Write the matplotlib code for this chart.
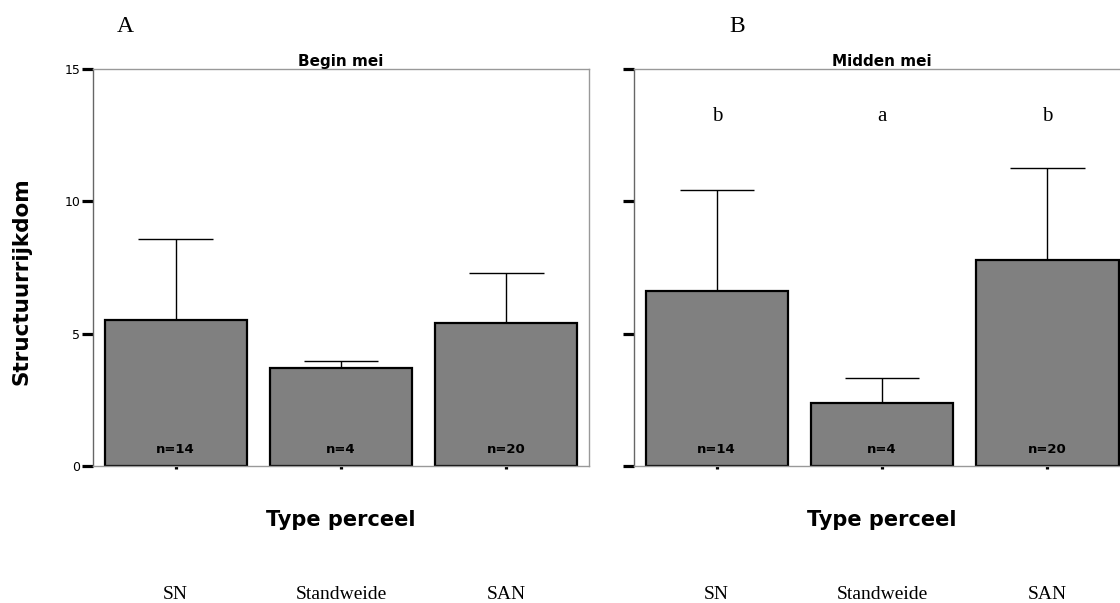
import matplotlib.pyplot as plt
import numpy as np

# categorieen en gemiddelden per periode
categories = ['SN', 'Standweide', 'SAN']
n_labels = ['n=14', 'n=4', 'n=20']
begin_mean = [5.52, 3.69, 5.39]
begin_upper = [8.59, 3.97, 7.29]
midden_mean = [6.61, 2.39, 7.77]
midden_upper = [10.43, 3.34, 11.25]
midden_letters = ['b', 'a', 'b']

serif = ['Liberation Serif', 'DejaVu Serif']
sans = ['DejaVu Sans']

fig = plt.figure(figsize=(11.2, 6.03), dpi=100)
ax_a = fig.add_axes([0.0830, 0.2272, 0.4429, 0.6584])
ax_b = fig.add_axes([0.5661, 0.2272, 0.4429, 0.6584])

x = np.arange(len(categories))

for ax, means, upper, title in [(ax_a, begin_mean, begin_upper, 'Begin mei'),
                                (ax_b, midden_mean, midden_upper, 'Midden mei')]:
    ax.bar(x, means, width=0.86, color='#808080', edgecolor='black', linewidth=1.6, zorder=2)
    # alleen bovenste foutbalk
    ax.vlines(x, means, upper, color='black', linewidth=1, zorder=1)
    ax.hlines(upper, x - 0.225, x + 0.225, color='black', linewidth=1, zorder=1)
    for xi, lab in zip(x, n_labels):
        ax.text(xi, 0.62, lab, ha='center', va='center', fontsize=9.5,
                fontweight='bold', family=sans, zorder=3)
    ax.set_xlim(-0.5, 2.5)
    ax.set_ylim(0, 15)
    ax.set_yticks([0, 5, 10, 15])
    ax.set_xticks(x)
    ax.set_xticklabels(categories, family=serif, fontsize=14)
    ax.tick_params(axis='y', length=8, width=2.3, color='black', direction='out',
                   labelsize=9, pad=1)
    for lab in ax.get_yticklabels():
        lab.set_family(sans)
    ax.tick_params(axis='x', length=2.5, width=2.3, color='black', direction='out', pad=84)
    for s in ['top', 'right', 'bottom']:
        ax.spines[s].set_color('#999999')
        ax.spines[s].set_linewidth(1)
    ax.spines['left'].set_color('#666666')
    ax.spines['left'].set_linewidth(1)
    ax.set_title(title, fontsize=11, fontweight='bold', family=sans, pad=2)
    ax.text(0.5, -0.136, 'Type perceel', transform=ax.transAxes, ha='center', va='center',
            fontsize=15, fontweight='bold', family=sans)

ax_b.set_yticklabels([])
for xi, letter in zip(x, midden_letters):
    ax_b.text(xi, 13.2, letter, ha='center', va='center', fontsize=15, family=serif)

fig.text(22 / 1120, 1 - 281 / 603, 'Structuurrijkdom', rotation=90, ha='center', va='center',
         fontsize=15.5, fontweight='bold', family=sans)
fig.text(125 / 1120, 1 - 26 / 603, 'A', ha='center', va='center', fontsize=17, family=serif)
fig.text(737 / 1120, 1 - 26 / 603, 'B', ha='center', va='center', fontsize=17, family=serif)

fig.savefig('out.png', dpi=100)
